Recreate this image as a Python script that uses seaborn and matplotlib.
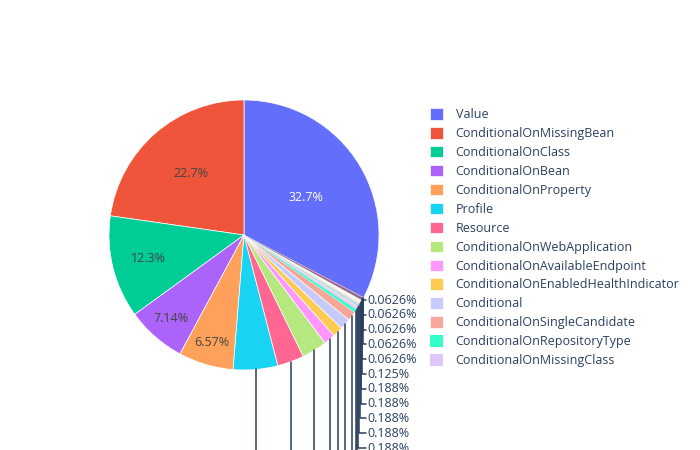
import colorsys
import matplotlib
matplotlib.use("Agg")
import matplotlib.pyplot as plt
import matplotlib.colors as mcolors
import numpy as np
import seaborn as sns

# annotation usage counts (total 1597)
names = [
    "Value", "ConditionalOnMissingBean", "ConditionalOnClass", "ConditionalOnBean",
    "ConditionalOnProperty", "Profile", "Resource", "ConditionalOnWebApplication",
    "ConditionalOnAvailableEndpoint", "ConditionalOnEnabledHealthIndicator", "Conditional",
    "ConditionalOnSingleCandidate", "ConditionalOnRepositoryType", "ConditionalOnMissingClass",
    "ConditionalOnExpression", "ConditionalOnResource", "ConditionalOnNotWebApplication",
    "ConditionalOnJava", "ConditionalOnCloudPlatform", "ConditionalOnWarDeployment",
    "ConditionalOnJndi", "ConditionalOnManagementPort", "ConditionalOnEnabledInfoContributor",
    "ConditionalOnEnabledMetricsExport", "ConditionalOnEnabledTracing",
]
counts = [522, 363, 196, 114, 105, 85, 51, 48, 22, 20, 21, 18, 6, 4,
          3, 3, 3, 3, 3, 2, 1, 1, 1, 1, 1]

base_colors = ["#636efa", "#EF553B", "#00cc96", "#ab63fa", "#FFA15A",
               "#19d3f3", "#FF6692", "#B6E880", "#FF97FF", "#FECB52"]


def shift(c, dl):
    r, g, b = mcolors.to_rgb(c)
    h, l, s = colorsys.rgb_to_hls(r, g, b)
    l = min(1, max(0, l + dl))
    return colorsys.hls_to_rgb(h, l, s)


# plotly-style extended pie colours: base, lighter, darker
palette = list(sns.color_palette(base_colors))
palette += [shift(c, 0.2) for c in base_colors]
palette += [shift(c, -0.2) for c in base_colors]
colors = [palette[i % len(palette)] for i in range(len(counts))]

sns.set_theme(style="white")
plt.rcParams["font.family"] = ["Open Sans", "DejaVu Sans"]
text_col = "#2a3f5f"

fig = plt.figure(figsize=(7, 4.5), dpi=100)
cx, cy, R = 244, 235, 135
ax = fig.add_axes([(cx - R) / 700, (450 - cy - R) / 450, 2 * R / 700, 2 * R / 450])

total = sum(counts)
start = 90 - 360 * counts[0] / total
wedges, _ = ax.pie(counts, colors=colors, startangle=start, counterclock=True)
for w, c in zip(wedges, counts):
    if c >= 10:
        w.set_edgecolor("white")
        w.set_linewidth(0.5)
    else:
        w.set_linewidth(0)
ax.set_xlim(-1, 1)
ax.set_ylim(-1, 1)
ax.axis("off")


def pct(v):
    return "{:.3g}%".format(100 * v / total)


# inside labels
inside_r = [0.54, 0.6, 0.73, 0.82, 0.83]
for i, r in enumerate(inside_r):
    w = wedges[i]
    a = np.deg2rad((w.theta1 + w.theta2) / 2)
    ax.text(r * np.cos(a), r * np.sin(a), pct(counts[i]), ha="center", va="center",
            fontsize=9, color="white" if i == 0 else "#444444")

# outside labels, stacked below on the right
outside = list(range(len(inside_r), len(counts)))[::-1]
label_x = (366 - cx) / R
for k, i in enumerate(outside):
    w = wedges[i]
    a = np.deg2rad((w.theta1 + w.theta2) / 2)
    px, py = np.cos(a), np.sin(a)
    y_px = 300 + k * 14.8
    ly = (cy - y_px) / R
    ax.plot([px, px, label_x], [py, ly, ly], color=text_col, lw=1.1,
            clip_on=False, solid_joinstyle="miter")
    if y_px < 460:
        ax.text(label_x + 0.01, ly, pct(counts[i]), ha="left", va="center",
                fontsize=9, color=text_col, clip_on=False)

leg = fig.legend(wedges[:14], names[:14], loc="upper left",
                 bbox_to_anchor=(430 / 700, 1 - 108 / 450), frameon=False,
                 fontsize=9, labelspacing=0.47, handlelength=1.05, handleheight=1.05,
                 handletextpad=1.0, borderpad=0, borderaxespad=0)
for t in leg.get_texts():
    t.set_color(text_col)

fig.savefig("out.png", dpi=100)
